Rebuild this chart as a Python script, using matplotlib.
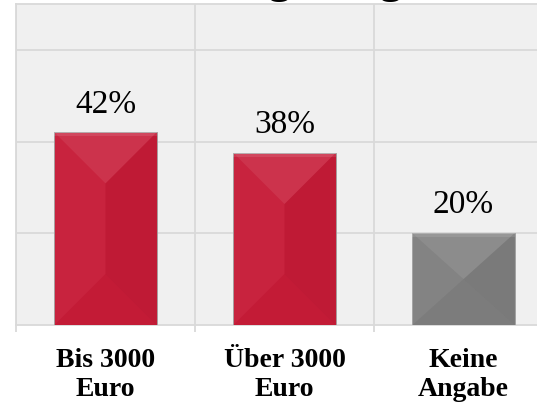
import matplotlib

matplotlib.use("Agg")
import matplotlib.pyplot as plt
from matplotlib.patches import Polygon

# data
categories = ["Bis 3000\nEuro", "Über 3000\nEuro", "Keine\nAngabe"]
shares = [42.0, 37.5, 20.0]
bar_colors = ["#C71C38", "#C71C38", "#7F7F7F"]
title = "Vergütung"

plt.rcParams["font.family"] = ["Liberation Serif", "DejaVu Serif"]

W, H = 537, 406
fig = plt.figure(figsize=(W / 100, H / 100), dpi=100)
# plot area runs past the right edge of the picture (cropped original)
ax = fig.add_axes([16 / W, 80 / H, 521 / W, 321 / H])
ax.set_facecolor("#F0F0F0")

grid_c = "#D9D9D9"
x = list(range(len(categories)))
bar_w = 0.57
bars = ax.bar(x, shares, width=bar_w, color=bar_colors,
              edgecolor="#A0A0A0", lw=0.6, zorder=3)

ax.set_xlim(-0.5, -0.5 + 521 / 179)
ax.set_ylim(0, 70)

# ── bevel facets on each bar ────────────────────────────────────────────
px_x = 521 / (ax.get_xlim()[1] - ax.get_xlim()[0])
px_y = 321 / 70
for b in bars:
    x0, w, h = b.get_x(), b.get_width(), b.get_height()
    x1, xc = x0 + w, x0 + w / 2
    dy = min((w / 2) * px_x / px_y, h / 2)
    facets = [
        ([(x0, h), (x1, h), (xc, h - dy)], "white", 0.10),
        ([(x0, 0), (x0, h), (xc, h - dy), (xc, dy)], "white", 0.03),
        ([(x1, 0), (x1, h), (xc, h - dy), (xc, dy)], "black", 0.04),
        ([(x0, 0), (x1, 0), (xc, dy)], "black", 0.02),
    ]
    for pts, c, a in facets:
        ax.add_patch(Polygon(pts, closed=True, facecolor=c, alpha=a,
                             lw=0, zorder=4))
    # soft highlight along the top edge
    strip = h - 0.8
    ax.add_patch(Polygon([(x0, strip), (x1, strip), (x1, h), (x0, h)],
                         facecolor="white", alpha=0.10, lw=0, zorder=4))

# ── value labels ────────────────────────────────────────────────────────
for b, v in zip(bars, shares):
    ax.annotate(f"{v:.0f}%", xy=(b.get_x() + b.get_width() / 2, v),
                xytext=(0, 15), textcoords="offset points",
                ha="center", va="baseline", fontsize=24, color="black")

# ── axes styling ────────────────────────────────────────────────────────
ax.set_yticks([20, 40, 60])
ax.set_yticklabels([])
ax.tick_params(axis="y", length=0)
ax.grid(axis="y", color=grid_c, lw=1.3, zorder=1)

ax.set_xticks(x)
ax.set_xticklabels(categories, fontsize=20, fontweight="bold",
                   linespacing=1.2)
ax.set_xticks([-0.5, 0.5, 1.5], minor=True)
ax.tick_params(axis="x", which="major", length=0, pad=16)
ax.tick_params(axis="x", which="minor", length=5, width=1.3, color=grid_c)
ax.grid(axis="x", which="minor", color=grid_c, lw=1.3, zorder=1)
ax.set_axisbelow(True)

for side in ("left", "top", "bottom"):
    ax.spines[side].set_color(grid_c)
    ax.spines[side].set_linewidth(1.3)
ax.spines["right"].set_visible(False)

# title sits mostly above the visible area, only descenders show
fig.text(302 / W, 1 + 7 / H, title, ha="center", va="baseline",
         fontsize=32, fontweight="bold")

fig.savefig("out.png", dpi=100)
